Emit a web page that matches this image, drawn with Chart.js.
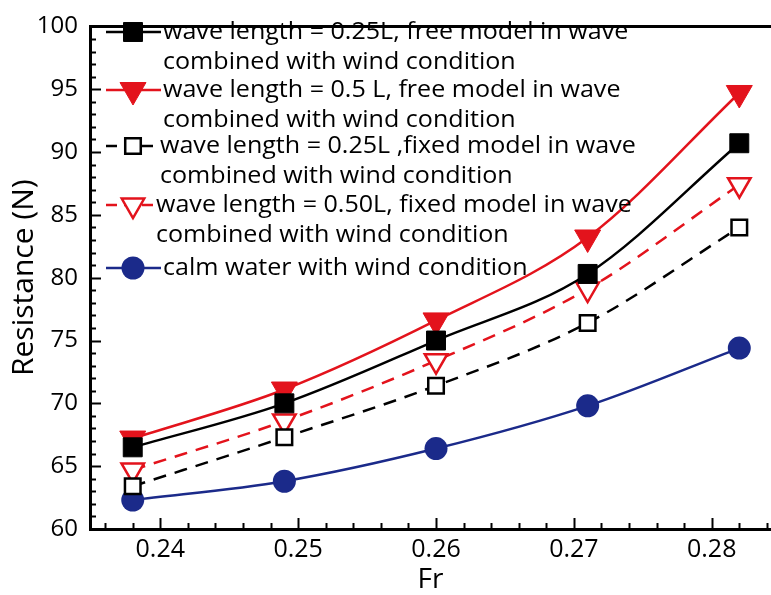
<!DOCTYPE html>
<html>
<head>
<meta charset="utf-8">
<script src="https://cdn.jsdelivr.net/npm/chart.js@4.4.0/dist/chart.umd.min.js"></script>
<style>
  html, body { margin: 0; padding: 0; background: #fff; }
</style>
</head>
<body>
<canvas id="resistance" width="771" height="595"></canvas>
<script>
// Froude numbers and resistance (N)
const fr = [0.238, 0.249, 0.26, 0.271, 0.282];
const free025 = [66.5, 70.0, 75.0, 80.3, 90.7];
const free050 = [67.2, 71.1, 76.6, 83.2, 94.7];
const fixed025 = [63.4, 67.3, 71.4, 76.4, 84.0];
const fixed050 = [64.7, 68.6, 73.4, 79.1, 87.4];
const calm = [62.3, 63.8, 66.4, 69.8, 74.4];

const seriesLabels = [
  ['wave length = 0.25L, free model in wave', 'combined with wind condition'],
  ['wave length = 0.5 L, free model in wave', 'combined with wind condition'],
  ['wave length = 0.25L ,fixed model in wave', 'combined with wind condition'],
  ['wave length = 0.50L, fixed model in wave', 'combined with wind condition'],
  ['calm water with wind condition']
];

const RED = '#e3131c';
const BLUE = '#1b2a8a';
const FONT = '"Open Sans", sans-serif';

const toPoints = ys => ys.map((y, i) => ({ x: fr[i], y }));

const datasets = [
  { data: toPoints(free025), borderColor: '#000', pointBackgroundColor: '#000', pointBorderColor: '#000',
    pointStyle: 'rect', pointRadius: 13.4, pointBorderWidth: 1, borderDash: [] },
  { data: toPoints(free050), borderColor: RED, pointBackgroundColor: RED, pointBorderColor: RED,
    pointStyle: 'triangle', pointRotation: 180, pointRadius: 15, pointBorderWidth: 1, borderDash: [] },
  { data: toPoints(fixed025), borderColor: '#000', pointBackgroundColor: '#fff', pointBorderColor: '#000',
    pointStyle: 'rect', pointRadius: 11, pointBorderWidth: 2.5, borderDash: [13, 9] },
  { data: toPoints(fixed050), borderColor: RED, pointBackgroundColor: '#fff', pointBorderColor: RED,
    pointStyle: 'triangle', pointRotation: 180, pointRadius: 13, pointBorderWidth: 2.5, borderDash: [13, 9] },
  { data: toPoints(calm), borderColor: BLUE, pointBackgroundColor: BLUE, pointBorderColor: BLUE,
    pointStyle: 'circle', pointRadius: 11.5, pointBorderWidth: 0, borderDash: [] }
].map((d, i) => Object.assign({
  label: seriesLabels[i].join(' '),
  borderWidth: 2.5,
  cubicInterpolationMode: 'monotone',
  pointHoverRadius: d.pointRadius,
  fill: false
}, d));

// same geometry as Chart.js point styles, for the legend samples
function drawMarker(ctx, ds, x, y) {
  const r = ds.pointRadius;
  ctx.save();
  ctx.beginPath();
  if (ds.pointStyle === 'rect') {
    const s = r * Math.SQRT1_2;
    ctx.rect(x - s, y - s, 2 * s, 2 * s);
  } else if (ds.pointStyle === 'triangle') {
    let a = Math.PI;
    ctx.moveTo(x + Math.sin(a) * r, y - Math.cos(a) * r);
    a += 2 * Math.PI / 3;
    ctx.lineTo(x + Math.sin(a) * r, y - Math.cos(a) * r);
    a += 2 * Math.PI / 3;
    ctx.lineTo(x + Math.sin(a) * r, y - Math.cos(a) * r);
    ctx.closePath();
  } else {
    ctx.arc(x, y, r, 0, Math.PI * 2);
  }
  ctx.fillStyle = ds.pointBackgroundColor;
  ctx.fill();
  if (ds.pointBorderWidth) {
    ctx.lineWidth = ds.pointBorderWidth;
    ctx.strokeStyle = ds.pointBorderColor;
    ctx.stroke();
  }
  ctx.restore();
}

const legendRows = [32, 90, 146, 205, 268];
const legendTextX = [163, 163, 160, 156, 163];

const framePlugin = {
  id: 'frame',
  beforeDatasetsDraw(chart) {
    const { ctx, chartArea: a, scales: { x, y } } = chart;
    ctx.save();
    ctx.strokeStyle = '#000';
    ctx.lineWidth = 2;
    // inward ticks on the left axis
    for (let v = 60; v <= 100; v++) {
      const py = Math.round(y.getPixelForValue(v)) + 0.5;
      const len = v % 5 === 0 ? 11 : 6;
      ctx.beginPath();
      ctx.moveTo(a.left, py);
      ctx.lineTo(a.left + len, py);
      ctx.stroke();
    }
    // inward ticks on the bottom axis
    for (let k = 118; k <= 142; k++) {
      const v = k * 0.002;
      const px = Math.round(x.getPixelForValue(v)) + 0.5;
      if (px > a.right) break;
      const len = k % 5 === 0 ? 11 : 6;
      ctx.beginPath();
      ctx.moveTo(px, a.bottom);
      ctx.lineTo(px, a.bottom - len);
      ctx.stroke();
    }
    // top frame line
    ctx.lineWidth = 3;
    ctx.beginPath();
    ctx.moveTo(a.left, a.top);
    ctx.lineTo(a.right, a.top);
    ctx.stroke();
    ctx.restore();
  },
  afterDraw(chart) {
    const { ctx } = chart;
    ctx.save();
    ctx.font = '23px ' + FONT;
    ctx.textBaseline = 'middle';
    ctx.fillStyle = '#000';
    chart.data.datasets.forEach((ds, i) => {
      const yRow = legendRows[i];
      ctx.save();
      ctx.strokeStyle = ds.borderColor;
      ctx.lineWidth = ds.borderWidth;
      ctx.setLineDash(ds.borderDash.length ? [11, 7] : []);
      ctx.beginPath();
      ctx.moveTo(106, yRow);
      ctx.lineTo(legendTextX[i] - 2, yRow);
      ctx.stroke();
      ctx.restore();
      drawMarker(ctx, ds, 133, yRow);
      seriesLabels[i].forEach((t, j) => {
        ctx.save();
        ctx.translate(legendTextX[i], yRow + j * 30);
        ctx.scale(1.09, 1);
        ctx.fillText(t, 0, 0);
        ctx.restore();
      });
    });
    ctx.restore();
  }
};

new Chart(document.getElementById('resistance'), {
  type: 'line',
  data: { datasets },
  options: {
    responsive: false,
    devicePixelRatio: 1,
    animation: false,
    layout: { autoPadding: false, padding: { top: 16, right: 0, left: 0, bottom: 0 } },
    plugins: {
      legend: { display: false },
      tooltip: { enabled: false }
    },
    scales: {
      x: {
        type: 'linear',
        min: 0.2349,
        max: 0.2843,
        grid: { display: false, drawTicks: false },
        border: { display: true, width: 3, color: '#000' },
        ticks: {
          stepSize: 0.01,
          includeBounds: false,
          padding: 6,
          color: '#000',
          font: { family: FONT, size: 25 },
          callback: v => v.toFixed(2)
        },
        title: { display: true, text: 'Fr', color: '#000', padding: { top: 0, bottom: -2 },
          font: { family: FONT, size: 28 } },
        afterFit: s => { s.height = 66; }
      },
      y: {
        min: 60,
        max: 100,
        grid: { display: false, drawTicks: false },
        border: { display: true, width: 3, color: '#000' },
        ticks: {
          stepSize: 5,
          padding: 12,
          color: '#000',
          font: { family: FONT, size: 24 }
        },
        title: { display: true, text: 'Resistance (N)', color: '#000', padding: { top: 6, bottom: 0 },
          font: { family: FONT, size: 30 } },
        afterFit: s => { s.width = 90; }
      }
    }
  },
  plugins: [framePlugin]
});
</script>
</body>
</html>
